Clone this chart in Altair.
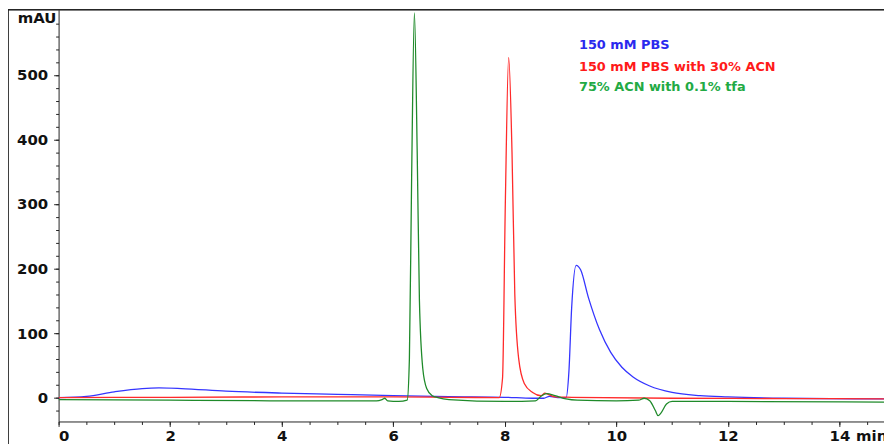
import pandas as pd
import altair as alt

# Chromatogram traces (time in min, absorbance in mAU)
blue_t = [0, 0.5, 1.0, 1.5, 1.8, 2.2, 3, 4, 5, 6, 7, 8, 8.5, 8.7, 8.8, 8.95, 9.1, 9.15, 9.2, 9.28,
          9.36, 9.5, 9.7, 9.9, 10.1, 10.3, 10.6, 11, 11.5, 12, 13, 14.8]
blue_y = [0, 2, 9, 14, 15, 14, 10, 7, 5, 3, 1.5, 0.5, -1, -1, 2, 0, 0, 40, 140, 205,
          198, 155, 105, 70, 47, 32, 18, 8, 3, 1, -1, -2]

red_t = [0, 2, 4, 6, 7, 7.9, 7.96, 8.01, 8.07, 8.13, 8.18, 8.25, 8.35, 8.5, 8.65, 8.72, 8.78,
         8.9, 9.2, 11, 13, 14.8]
red_y = [0, 0.5, 1, 1, 0.5, 0, 30, 300, 527, 380, 160, 60, 22, 8, 3, 7, 5,
         1, 0.5, -1, -1.5, -2]

green_t = [0, 2, 4, 5.7, 5.8, 5.85, 5.9, 6.1, 6.25, 6.29, 6.33, 6.38, 6.43, 6.47, 6.53, 6.6, 6.7,
           6.8, 7.0, 8, 8.55, 8.65, 8.75, 8.9, 9.1, 9.3, 10, 10.4, 10.5, 10.6, 10.7, 10.75, 10.8,
           10.9, 11, 12, 14.8]
green_y = [-3, -4, -5, -5, -3, -1, -5, -6, -4, 60, 340, 596, 380, 150, 45, 14, 3,
           0, -3, -6, -5, 2, 6, 3, -2, -4, -5, -4, -1, -5, -20, -28, -24,
           -10, -6, -6, -7]

series = [("150 mM PBS", blue_t, blue_y),
          ("150 mM PBS with 30% ACN", red_t, red_y),
          ("75% ACN with 0.1% tfa", green_t, green_y)]
line_colors = ["#3535ff", "#ff2a2a", "#1f8a2a"]
text_colors = ["#2a2aee", "#ff1a1a", "#22aa44"]
legend_x = [9.33, 9.33, 9.33]
legend_y = [546, 512, 481]

rows = []
for name, ts, ys in series:
    for t, y in zip(ts, ys):
        rows.append({"name": name, "t": t, "y": y})
df = pd.DataFrame(rows)
names = [s[0] for s in series]

W, H = 832, 415
xs = alt.Scale(domain=[0, 14.8], nice=False, zero=False)
ys_ = alt.Scale(domain=[-37, 601], nice=False, zero=False)
font = "DejaVu Sans"

lines = alt.Chart(df).mark_line(strokeWidth=1.3, interpolate="monotone", clip=True).encode(
    x=alt.X("t:Q", scale=xs, axis=alt.Axis(orient="bottom", values=list(range(0, 15, 2)),
                                           title=None, grid=False, tickSize=5, labelFontSize=15,
                                           labelFontWeight="bold", labelColor="#111", labelFont=font,
                                           domainColor="#222", tickColor="#222", labelPadding=2)),
    y=alt.Y("y:Q", scale=ys_, axis=alt.Axis(orient="left", values=[0, 100, 200, 300, 400, 500],
                                            title=None, grid=False, tickSize=5, labelFontSize=15,
                                            labelFontWeight="bold", labelColor="#111", labelFont=font,
                                            domainColor="#222", tickColor="#222", labelPadding=6)),
    color=alt.Color("name:N", scale=alt.Scale(domain=names, range=line_colors), legend=None),
    detail="name:N",
)

minor = alt.Chart(df).mark_point(opacity=0).encode(
    x=alt.X("t:Q", scale=xs, axis=alt.Axis(orient="bottom", values=[i * 0.5 for i in range(30)],
                                           labels=False, title=None, grid=False, tickSize=3,
                                           domain=False, tickColor="#222")),
    y=alt.Y("y:Q", scale=ys_, axis=alt.Axis(orient="left", values=list(range(-20, 600, 20)),
                                            labels=False, title=None, grid=False, tickSize=3,
                                            domain=False, tickColor="#222")),
)

leg = pd.DataFrame({"name": names, "x": legend_x, "y": legend_y, "c": text_colors})
legend = alt.Chart(leg).mark_text(align="left", fontSize=13, fontWeight="bold", font=font).encode(
    x=alt.X("x:Q", scale=xs, axis=None), y=alt.Y("y:Q", scale=ys_, axis=None),
    text="name:N", color=alt.Color("c:N", scale=None),
)

units = pd.DataFrame({"x": [-0.04, 14.3], "y": [588, -60], "label": ["mAU", "min"]})
unit_text = alt.Chart(units).mark_text(fontSize=15, fontWeight="bold", font=font, color="#111",
                                       clip=False, align="left").encode(
    x=alt.X("x:Q", scale=xs, axis=None), y=alt.Y("y:Q", scale=ys_, axis=None), text="label:N",
)
mau = unit_text.transform_filter("datum.label == 'mAU'").mark_text(
    fontSize=15, fontWeight="bold", font=font, color="#111", align="right", clip=False)
mn = unit_text.transform_filter("datum.label == 'min'")

frame_left = alt.Chart(leg).mark_rule(color="#222", strokeWidth=1).encode(
    x=alt.value(-51), y=alt.value(0), y2=alt.value(440))
frame_top = alt.Chart(leg).mark_rule(color="#222", strokeWidth=1).encode(
    x=alt.value(-51), x2=alt.value(W + 10), y=alt.value(0))

chart = alt.layer(minor, lines, legend, mau, mn, frame_left, frame_top).resolve_axis(
    x="independent", y="independent"
).properties(
    width=W, height=H, autosize=alt.AutoSizeParams(type="none"),
    padding={"left": 51, "top": 0, "right": 0, "bottom": 30},
).configure_view(stroke=None)

chart.save("out.html", embed_options={"renderer": "svg", "actions": False})
